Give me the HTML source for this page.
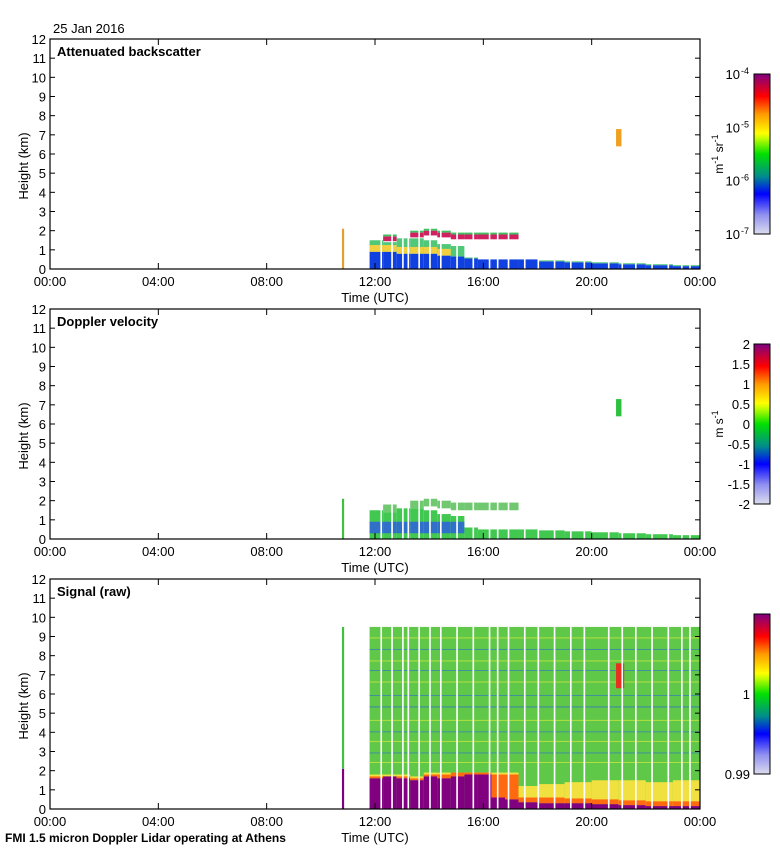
<!DOCTYPE html>
<html><head><meta charset="utf-8"><style>
body{margin:0;background:#fff;}
svg{display:block;font-family:"Liberation Sans",sans-serif;}
</style></head><body>
<svg id="c" width="780" height="850" xmlns="http://www.w3.org/2000/svg">
<defs>
<linearGradient id="cmap" x1="0" y1="1" x2="0" y2="0">
<stop offset="0" stop-color="#dcdcee"/><stop offset="0.12" stop-color="#9090f0"/>
<stop offset="0.25" stop-color="#0000ff"/><stop offset="0.36" stop-color="#008c8c"/>
<stop offset="0.5" stop-color="#00e000"/><stop offset="0.6" stop-color="#c8ff00"/>
<stop offset="0.63" stop-color="#ffff00"/><stop offset="0.75" stop-color="#ff9900"/>
<stop offset="0.86" stop-color="#ff0000"/><stop offset="1" stop-color="#800080"/>
</linearGradient>
</defs>
<text x="53" y="33" font-size="13">25 Jan 2016</text>
<text x="5" y="842" font-size="12" font-weight="bold">FMI 1.5 micron Doppler Lidar operating at Athens</text>
<g id="g"></g>
</svg>
<script>
// ---- data ----
const colTimes = [11.8,12.3,12.8,13.3,13.8,14.3,14.8,15.3,15.8,16.3,16.8,17.3,18.0,19.0,20.0,21.0,22.0,23.0];
const colEnd   = [12.3,12.8,13.3,13.8,14.3,14.8,15.3,15.8,16.3,16.8,17.3,18.0,19.0,20.0,21.0,22.0,23.0,24.0];
const layerTopKm = [1.7,1.8,1.9,2.0,2.1,2.0,1.9,1.9,1.9,1.9,1.9,0.5,0.45,0.4,0.35,0.3,0.25,0.2];
const blueTopKm  = [0.9,0.9,0.8,0.8,0.8,0.7,0.65,0.55,0.5,0.5,0.5,0.5,0.4,0.35,0.3,0.25,0.2,0.15];
const midTopKm   = [1.5,1.4,1.6,1.6,1.5,1.3,1.2,0.6,0.5,0.5,0.5,0.5,0.45,0.4,0.35,0.3,0.25,0.2];
const purpleTopKm= [1.6,1.7,1.6,1.5,1.7,1.6,1.7,1.8,1.8,0.6,0.5,0.35,0.3,0.3,0.25,0.2,0.15,0.15];
const orangeTopKm= [1.7,1.7,1.7,1.6,1.8,1.8,1.9,1.9,1.9,1.8,1.8,0.6,0.6,0.55,0.5,0.45,0.4,0.4];
const yellowTopKm= [1.8,1.8,1.8,1.7,1.9,1.9,1.9,1.9,1.9,1.9,1.9,1.2,1.3,1.4,1.5,1.5,1.4,1.5];
const gapTimes = [12.2,12.6,13.0,13.2,13.6,14.0,14.4,15.0,15.6,16.2,16.5,16.9,17.5,18.0,18.6,19.2,19.7,20.6,21.1,21.6,22.2,22.8,23.3,23.6];
const streakKm = [8.9,8.3,7.7,7.2,6.6,5.9,5.3,4.6,4.0,3.5,2.9,2.4];
const streakColor = ['#b8e040','#3c90a0','#b8e040','#3c90a0','#b8e040','#3c90a0','#3c80b0','#b8e040','#3c90a0','#b8e040','#3c90a0','#b8e040'];
const yTicks = [0,1,2,3,4,5,6,7,8,9,10,11,12];
const xTicks = [0,4,8,12,16,20,24];
const xLabels = ['00:00','04:00','08:00','12:00','16:00','20:00','00:00'];
const bsLabels = ['10','10','10','10'];
const bsExp = ['-4','-5','-6','-7'];
const velLabels = ['2','1.5','1','0.5','0','-0.5','-1','-1.5','-2'];
const sigLabels = ['1','0.99'];
const sigLabelPos = [0.5,1.0];

const NS='http://www.w3.org/2000/svg';
const G=document.getElementById('g');
function mk(tag,attrs,parent){const e=document.createElementNS(NS,tag);for(const k in attrs)e.setAttribute(k,attrs[k]);(parent||G).appendChild(e);return e;}
const L=50,R=700;
const panels=[{top:39,title:'Attenuated backscatter',kind:'bs'},{top:309,title:'Doppler velocity',kind:'vel'},{top:579,title:'Signal (raw)',kind:'sig'}];
const H=230;
function xs(h){return L+(R-L)*h/24;}

panels.forEach((p,pi)=>{
  const ys=k=>p.top+H-H*k/12;
  const g=mk('g',{});
  
  
  function rect(t0,t1,k0,k1,fill,name){
    const r=mk('rect',{x:xs(t0),y:ys(k1),width:Math.max(0.5,xs(t1)-xs(t0)),height:Math.max(0,ys(k0)-ys(k1)),fill:fill},g);
    
    
  }
  if(p.kind==='bs'||p.kind==='vel'){
    colTimes.forEach((t,i)=>{
      const t1=colEnd[i];
      if(p.kind==='bs'){
        rect(t,t1,0,blueTopKm[i],'#1040e0','bs-blue-layer');
        rect(t,t1,blueTopKm[i],midTopKm[i],'#50c878','bs-mid-layer');
        if(midTopKm[i]<layerTopKm[i]-0.3){rect(t,t1,layerTopKm[i]-0.35,layerTopKm[i]-0.1,'#d02060','bs-cloud-top');rect(t,t1,layerTopKm[i]-0.1,layerTopKm[i],'#40c060','bs-cloud-edge');}
        if(i<6) rect(t,t1,blueTopKm[i],blueTopKm[i]+0.35,'#f0d040','bs-yellow-core');
      } else {
        rect(t,t1,0,midTopKm[i],'#40c850','vel-low-layer');
        if(midTopKm[i]<layerTopKm[i]-0.3) rect(t,t1,layerTopKm[i]-0.4,layerTopKm[i],'#70c870','vel-upper-layer');
        if(i<7) rect(t,t1,0.3,0.9,'#3070c8','vel-blue-core');
      }
    });
    rect(10.78,10.86,0,2.1,p.kind==='bs'?'#e0a030':'#40c040','spike-profile');
    rect(20.9,21.1,6.4,7.3,p.kind==='bs'?'#f0a020':'#30c040','cloud-21h');
  } else {
    rect(11.8,24,0,9.5,'#60c848','signal-background');
    streakKm.forEach((k,i)=>rect(11.8,24,k,k+0.05,streakColor[i],'signal-streak'));
    colTimes.forEach((t,i)=>{
      const t1=colEnd[i];
      rect(t,t1,purpleTopKm[i],yellowTopKm[i],'#f0e040','signal-yellow-band');
      rect(t,t1,purpleTopKm[i],orangeTopKm[i],'#ff6a10','signal-orange-band');
      rect(t,t1,0,purpleTopKm[i],'#800080','signal-purple-layer');
    });
    rect(10.78,10.86,0,2.1,'#800080','spike-profile');
    rect(10.78,10.86,2.1,9.5,'#40c040','spike-profile-upper');
    rect(20.9,21.2,6.3,7.6,'#e83020','cloud-21h');
  }
  gapTimes.forEach(t=>rect(t,t+0.06,0,p.kind==='sig'?9.5:2.3,'#ffffff','data-gap'));
  const f=mk('rect',{x:L,y:p.top,width:R-L,height:H,fill:'none',stroke:'#000','stroke-width':1.2},g);
  
  
  yTicks.forEach(k=>{
    mk('line',{x1:L,x2:L+5,y1:ys(k),y2:ys(k),stroke:'#000'},g);
    mk('line',{x1:R,x2:R-5,y1:ys(k),y2:ys(k),stroke:'#000'},g);
    const tx=mk('text',{x:L-4,y:ys(k)+5,'font-size':13,'text-anchor':'end'},g);
    tx.textContent=k;
    
    
  });
  xTicks.forEach((h,i)=>{
    mk('line',{x1:xs(h),x2:xs(h),y1:p.top+H,y2:p.top+H-6,stroke:'#000'},g);
    mk('line',{x1:xs(h),x2:xs(h),y1:p.top,y2:p.top+6,stroke:'#000'},g);
    const tx=mk('text',{x:xs(h),y:p.top+H+17,'font-size':13,'text-anchor':'middle'},g);
    tx.textContent=xLabels[i];
    
    
  });
  const xt=mk('text',{x:375,y:p.top+H+33,'font-size':13,'text-anchor':'middle'},g);
  xt.textContent='Time (UTC)';
  
  
  const yt=mk('text',{x:0,y:0,'font-size':13,'text-anchor':'middle',transform:`translate(28,${p.top+H/2+12}) rotate(-90)`},g);
  yt.textContent='Height (km)';
  
  
  const tt=mk('text',{x:57,y:p.top+17,'font-size':13,'font-weight':'bold'},g);
  tt.textContent=p.title;
  
  
  const cbT=p.top+35,cbH=160;
  const cb=mk('rect',{x:754,y:cbT,width:16,height:cbH,fill:'url(#cmap)',stroke:'#000'},g);
  
  
  if(p.kind==='bs'){
    bsLabels.forEach((b,i)=>{
      const tx=mk('text',{x:740,y:cbT+i*cbH/3+5,'font-size':13,'text-anchor':'end'},g);
      tx.textContent=b;
      
      
      const ex=mk('text',{x:741,y:cbT+i*cbH/3,'font-size':9},g);
      ex.textContent=bsExp[i];
    });
    const u=mk('text',{x:0,y:0,'font-size':12,'text-anchor':'middle',transform:`translate(723,${cbT+cbH/2}) rotate(-90)`},g);
    u.innerHTML='m<tspan font-size="9" dy="-5">-1</tspan><tspan dy="5"> sr</tspan><tspan font-size="9" dy="-5">-1</tspan>';
    
    
  } else if(p.kind==='vel'){
    velLabels.forEach((b,i)=>{
      const tx=mk('text',{x:750,y:cbT+i*cbH/8+5,'font-size':13,'text-anchor':'end'},g);
      tx.textContent=b;
      
      
    });
    const u=mk('text',{x:0,y:0,'font-size':12,'text-anchor':'middle',transform:`translate(723,${cbT+cbH/2}) rotate(-90)`},g);
    u.innerHTML='m s<tspan font-size="9" dy="-5">-1</tspan>';
    
    
  } else {
    sigLabels.forEach((b,i)=>{
      const tx=mk('text',{x:750,y:cbT+sigLabelPos[i]*cbH+5,'font-size':13,'text-anchor':'end'},g);
      tx.textContent=b;
      
      
    });
  }
});
</script>
</body></html>
